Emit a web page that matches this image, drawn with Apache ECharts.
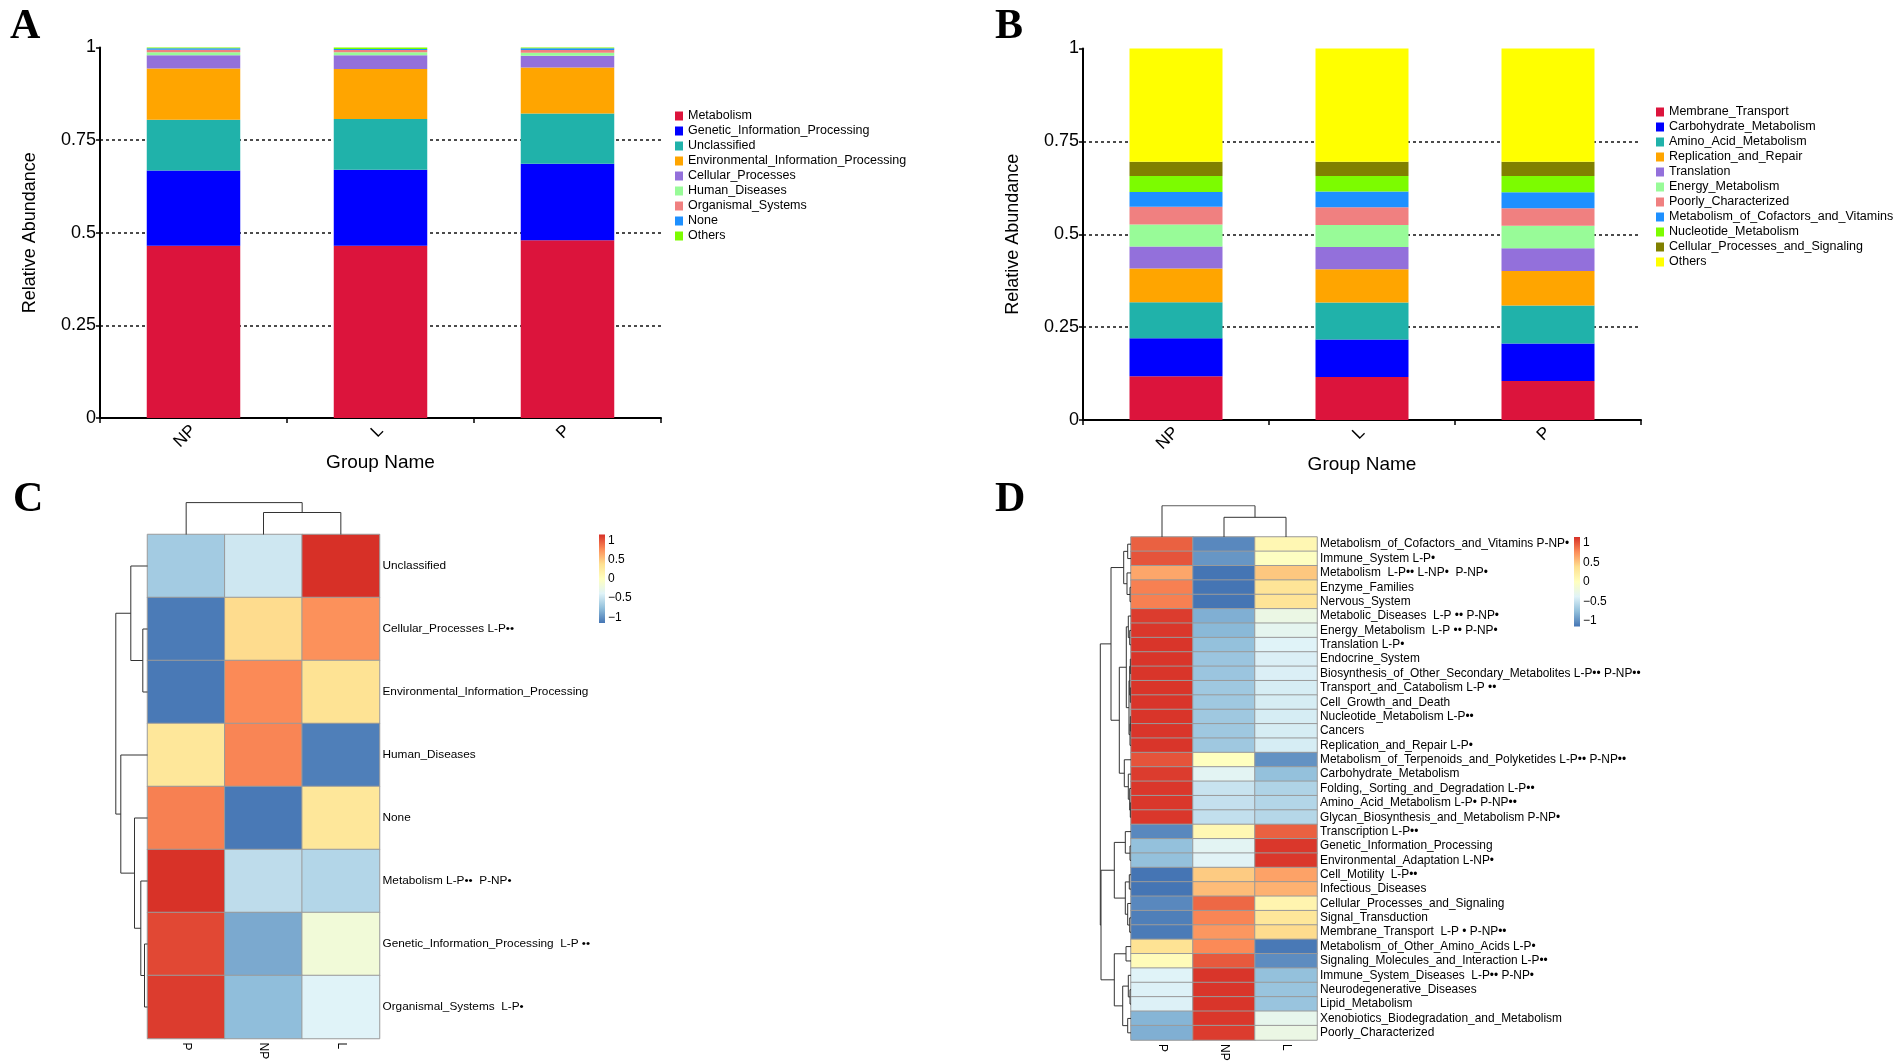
<!DOCTYPE html>
<html>
<head>
<meta charset="utf-8">
<script src="https://cdn.jsdelivr.net/npm/echarts@6/dist/echarts.min.js"></script>
<style>
html,body{margin:0;padding:0;background:#fff;}
.pane{position:absolute;left:0;top:0;width:1902px;height:1064px;}
</style>
</head>
<body>
<div id="cA" class="pane"></div>
<div id="cB" class="pane"></div>
<div id="cCD" class="pane"></div>
<script>
// ---------------- DATA ----------------
const groups = ['NP', 'L', 'P'];
const yTicks = [0, 0.25, 0.5, 0.75, 1];

// Panel A (KEGG level 1)
const catsA = ['Metabolism', 'Genetic_Information_Processing', 'Unclassified', 'Environmental_Information_Processing',
  'Cellular_Processes', 'Human_Diseases', 'Organismal_Systems', 'None', 'Others'];
const colorsA = ['#DC143C', '#0000FF', '#20B2AA', '#FFA500', '#9370DB', '#98FB98', '#F08080', '#1E90FF', '#7CFC00'];
const aNP = [0.465, 0.203, 0.137, 0.138, 0.036, 0.008, 0.007, 0.004, 0.002];
const aL  = [0.465, 0.205, 0.137, 0.135, 0.037, 0.008, 0.006, 0.003, 0.004];
const aP  = [0.480, 0.206, 0.136, 0.124, 0.032, 0.008, 0.007, 0.005, 0.002];

// Panel B (KEGG level 2)
const catsB = ['Membrane_Transport', 'Carbohydrate_Metabolism', 'Amino_Acid_Metabolism', 'Replication_and_Repair',
  'Translation', 'Energy_Metabolism', 'Poorly_Characterized', 'Metabolism_of_Cofactors_and_Vitamins',
  'Nucleotide_Metabolism', 'Cellular_Processes_and_Signaling', 'Others'];
const colorsB = ['#DC143C', '#0000FF', '#20B2AA', '#FFA500', '#9370DB', '#98FB98', '#F08080', '#1E90FF', '#7CFC00', '#808000', '#FFFF00'];
const bNP = [0.118, 0.102, 0.097, 0.091, 0.059, 0.059, 0.048, 0.040, 0.043, 0.038, 0.305];
const bL  = [0.116, 0.101, 0.099, 0.090, 0.060, 0.059, 0.048, 0.042, 0.042, 0.038, 0.305];
const bP  = [0.105, 0.101, 0.102, 0.093, 0.061, 0.061, 0.047, 0.043, 0.044, 0.038, 0.305];

// Heatmap columns (clustered order)
const hmCols = ['P', 'NP', 'L'];
const rampColors = ['#4575B4', '#91BFDB', '#E0F3F8', '#FFFFBF', '#FEE090', '#FC8D59', '#D73027'];
const zRange = [-1.15, 1.15];
const legendTicks = [-1, -0.5, 0, 0.5, 1];

// Panel C
const cRows = ['Unclassified', 'Cellular_Processes L-P••', 'Environmental_Information_Processing', 'Human_Diseases',
  'None', 'Metabolism L-P••  P-NP•', 'Genetic_Information_Processing  L-P ••', 'Organismal_Systems  L-P•'];
const cP  = [-0.68, -1.12, -1.13, 0.30, 0.82, 1.14, 1.05, 1.10];
const cNP = [-0.47, 0.40, 0.78, 0.80, -1.13, -0.55, -0.88, -0.77];
const cL  = [1.15, 0.75, 0.35, -1.10, 0.30, -0.60, -0.17, -0.38];
// dendrograms: [childA, childB, height(px)], leaves 0..n-1, merged nodes n, n+1, ...
const cRowMerges = [[1, 2, 4.7], [0, 8, 16.7], [6, 7, 3], [5, 10, 6.7], [4, 11, 13], [3, 12, 26.7], [9, 13, 31.7]];
const cColMerges = [[1, 2, 22], [0, 3, 31.9]];

// Panel D
const dRows = ['Metabolism_of_Cofactors_and_Vitamins P-NP•', 'Immune_System L-P•', 'Metabolism  L-P•• L-NP•  P-NP•',
  'Enzyme_Families', 'Nervous_System', 'Metabolic_Diseases  L-P •• P-NP•', 'Energy_Metabolism  L-P •• P-NP•',
  'Translation L-P•', 'Endocrine_System', 'Biosynthesis_of_Other_Secondary_Metabolites L-P•• P-NP••',
  'Transport_and_Catabolism L-P ••', 'Cell_Growth_and_Death', 'Nucleotide_Metabolism L-P••', 'Cancers',
  'Replication_and_Repair L-P•', 'Metabolism_of_Terpenoids_and_Polyketides L-P•• P-NP••', 'Carbohydrate_Metabolism',
  'Folding,_Sorting_and_Degradation L-P••', 'Amino_Acid_Metabolism L-P• P-NP••', 'Glycan_Biosynthesis_and_Metabolism P-NP•',
  'Transcription L-P••', 'Genetic_Information_Processing', 'Environmental_Adaptation L-NP•', 'Cell_Motility  L-P••',
  'Infectious_Diseases', 'Cellular_Processes_and_Signaling', 'Signal_Transduction', 'Membrane_Transport  L-P • P-NP••',
  'Metabolism_of_Other_Amino_Acids L-P•', 'Signaling_Molecules_and_Interaction L-P••', 'Immune_System_Diseases  L-P•• P-NP•',
  'Neurodegenerative_Diseases', 'Lipid_Metabolism', 'Xenobiotics_Biodegradation_and_Metabolism', 'Poorly_Characterized'];
const dP  = [0.95, 1.00, 0.65, 0.82, 0.82, 1.10, 1.12, 1.13, 1.13, 1.13, 1.13, 1.13, 1.13, 1.13, 1.13, 1.00, 1.10, 1.12, 1.12, 1.12,
  -1.05, -0.75, -0.75, -1.15, -1.15, -1.05, -1.10, -1.12, 0.35, 0.05, -0.38, -0.40, -0.40, -0.82, -0.85];
const dNP = [-1.05, -0.98, -1.15, -1.15, -1.15, -0.85, -0.80, -0.75, -0.72, -0.72, -0.70, -0.70, -0.70, -0.70, -0.70, 0.00, -0.35, -0.50, -0.52, -0.53,
  0.10, -0.35, -0.37, 0.48, 0.55, 0.92, 0.80, 0.72, 0.78, 0.98, 1.13, 1.13, 1.13, 1.12, 1.10];
const dL  = [0.10, -0.02, 0.50, 0.33, 0.33, -0.25, -0.32, -0.38, -0.41, -0.41, -0.43, -0.43, -0.43, -0.43, -0.43, -1.00, -0.75, -0.62, -0.60, -0.59,
  0.95, 1.12, 1.12, 0.67, 0.60, 0.13, 0.30, 0.40, -1.13, -1.03, -0.75, -0.73, -0.73, -0.30, -0.25];
const dRowMerges = [
  [0, 1, 3.3], [3, 4, 1], [2, 36, 4], [35, 37, 7.3],
  [12, 13, 0.7], [39, 14, 1], [10, 11, 0.7], [8, 9, 0.7], [42, 41, 1.3], [6, 7, 1.3], [5, 44, 2.7], [43, 40, 2], [45, 46, 4.7],
  [18, 19, 0.7], [17, 48, 1.3], [16, 49, 2.7], [15, 50, 6.7], [47, 51, 11.7], [38, 52, 20],
  [21, 22, 1], [20, 54, 5.7], [23, 24, 1.7], [26, 27, 1.3], [25, 57, 3.3], [56, 58, 5.7], [55, 59, 16.7],
  [28, 29, 5], [31, 32, 1], [30, 62, 2.7], [33, 34, 3.3], [63, 64, 8.3], [61, 65, 16.7], [60, 66, 30], [53, 67, 30.7]];
const dColMerges = [[1, 2, 19.7], [0, 3, 31.3]];

// ---------------- HELPERS ----------------
const FONT = '"Liberation Sans", Arial, sans-serif';
const SERIF = '"Liberation Serif", "Times New Roman", serif';

function stackedOption(letter, letterLeft, grid, cats, colors, vNP, vL, vP, legendPos) {
  const series = cats.map((c, i) => ({
    name: c, type: 'bar', stack: 'total', barWidth: '50%',
    data: [vNP[i], vL[i], vP[i]],
    itemStyle: { color: colors[i] },
    emphasis: { disabled: true }
  }));
  return {
    animation: false,
    textStyle: { fontFamily: FONT },
    title: { text: letter, left: letterLeft, top: 1, textStyle: { fontFamily: SERIF, fontWeight: 'bold', fontSize: 42, color: '#000' } },
    grid: grid,
    legend: {
      orient: 'vertical', left: legendPos[0], top: legendPos[1], padding: 0,
      itemWidth: 8, itemHeight: 9, itemGap: 2, icon: 'rect',
      textStyle: { fontSize: 12.5, color: '#000', lineHeight: 13, fontFamily: FONT },
      data: cats, selectedMode: false
    },
    xAxis: {
      type: 'category', data: groups,
      name: 'Group Name', nameLocation: 'middle', nameGap: 34,
      nameTextStyle: { fontSize: 19, color: '#000' },
      axisLine: { lineStyle: { color: '#000', width: 2 } },
      axisTick: { show: true, length: 5, lineStyle: { color: '#000', width: 1.5 } },
      axisLabel: { rotate: 45, fontSize: 17, color: '#000', margin: 10 }
    },
    yAxis: {
      type: 'value', min: 0, max: 1, interval: 0.25,
      name: 'Relative Abundance', nameLocation: 'middle', nameGap: 61,
      nameTextStyle: { fontSize: 18, color: '#000' },
      axisLine: { show: true, lineStyle: { color: '#000', width: 2 } },
      axisTick: { show: true, length: 4, lineStyle: { color: '#000', width: 1.5 } },
      axisLabel: { fontSize: 18, color: '#000', margin: 4 },
      splitLine: { show: true, lineStyle: { type: [3, 3], width: 1.5, color: ['rgba(0,0,0,0)', '#111', '#111', '#111', 'rgba(0,0,0,0)'] } }
    },
    series: series
  };
}

function dendroData(merges, nLeaves, isRow) {
  const pos = [], ht = [];
  for (let i = 0; i < nLeaves; i++) { pos[i] = i + 0.5; ht[i] = 0; }
  return merges.map((m, k) => {
    const a = m[0], b = m[1], h = m[2], id = nLeaves + k;
    pos[id] = (pos[a] + pos[b]) / 2; ht[id] = h;
    const pts = [[pos[a], ht[a]], [pos[a], h], [pos[b], h], [pos[b], ht[b]]];
    return { coords: pts.map(p => isRow ? [p[1], p[0]] : p) };
  });
}

// ---------------- CHARTS A/B ----------------
const chartA = echarts.init(document.getElementById('cA'));
chartA.setOption(stackedOption('A', 5, { left: 100, top: 47.5, width: 561, height: 370.5 },
  catsA, colorsA, aNP, aL, aP, [675, 109.5]));

const chartB = echarts.init(document.getElementById('cB'));
chartB.setOption(stackedOption('B', 990, { left: 1083, top: 48.5, width: 558, height: 371.5 },
  catsB, colorsB, bNP, bL, bP, [1656, 105.5]));

// ---------------- CHARTS C/D ----------------
function heatPanel(p) {
  const nR = p.rows.length;
  const rowRoot = p.rowMerges[p.rowMerges.length - 1][2];
  const colRoot = p.colMerges[p.colMerges.length - 1][2];
  const [L, T, W, H] = p.hm;
  const grids = [
    { left: L, top: T, width: W, height: H },
    { left: L - rowRoot, top: T, width: rowRoot, height: H },
    { left: L, top: T - colRoot, width: W, height: colRoot },
    { left: p.cbar[0], top: p.cbar[1], width: p.cbar[2], height: p.cbar[3] }
  ];
  const xAxes = [
    { type: 'category', data: hmCols, position: 'bottom', axisLine: { show: false }, axisTick: { show: false },
      axisLabel: { interval: 0, rotate: -90, fontSize: 12, color: '#000', margin: 4 }, splitLine: { show: false } },
    { type: 'value', min: 0, max: rowRoot, inverse: true, show: false },
    { type: 'value', min: 0, max: hmCols.length, show: false },
    { type: 'category', data: [''], show: false }
  ];
  const yAxes = [
    { type: 'category', data: p.rows, inverse: true, position: 'right', axisLine: { show: false }, axisTick: { show: false },
      axisLabel: { interval: 0, fontSize: p.fontSize, color: '#000', margin: 3 }, splitLine: { show: false } },
    { type: 'value', min: 0, max: nR, inverse: true, show: false },
    { type: 'value', min: 0, max: colRoot, show: false },
    { type: 'value', min: 0, max: zRange[1] - zRange[0], show: false },
    { type: 'value', min: zRange[0], max: zRange[1], position: 'right', axisLine: { show: false }, axisTick: { show: false },
      splitLine: { show: false },
      axisLabel: { customValues: legendTicks, fontSize: 12, color: '#000', margin: 3,
        formatter: v => String(v).replace('-', '\u2212') } }
  ];
  const cells = [];
  for (let r = 0; r < nR; r++) for (let c = 0; c < 3; c++) cells.push([c, r, p.vals[c][r]]);
  const grad = new echarts.graphic.LinearGradient(0, 0, 0, 1,
    rampColors.slice().reverse().map((col, i, arr) => ({ offset: i / (arr.length - 1), color: col })));
  return { grids, xAxes, yAxes, cells, grad, key: zRange[1] - zRange[0],
    rowD: dendroData(p.rowMerges, nR, true), colD: dendroData(p.colMerges, hmCols.length, false) };
}

const C = heatPanel({ hm: [147.5, 534.5, 232, 504], rows: cRows, vals: [cP, cNP, cL],
  rowMerges: cRowMerges, colMerges: cColMerges, cbar: [599, 534.5, 6, 88.5], fontSize: 11.8 });
const D = heatPanel({ hm: [1131, 537, 186, 503], rows: dRows, vals: [dP, dNP, dL],
  rowMerges: dRowMerges, colMerges: dColMerges, cbar: [1574, 537, 6, 89.5], fontSize: 11.9 });

const grid = C.grids.concat(D.grids);
const xAxis = C.xAxes.map((a, i) => Object.assign({ gridIndex: i }, a))
  .concat(D.xAxes.map((a, i) => Object.assign({ gridIndex: i + 4 }, a)));
const yAxis = C.yAxes.map((a, i) => Object.assign({ gridIndex: Math.min(i, 3) }, a))
  .concat(D.yAxes.map((a, i) => Object.assign({ gridIndex: Math.min(i, 3) + 4 }, a)));

const dendroStyle = { color: '#333', width: 1, opacity: 1 };
function panelSeries(P, xo, yo, tag) {
  return [
    { name: tag + '_heat', type: 'heatmap', xAxisIndex: xo + 0, yAxisIndex: yo + 0, data: P.cells,
      itemStyle: { borderColor: '#9a9a9a', borderWidth: 1 }, emphasis: { disabled: true } },
    { name: tag + '_rowDendro', type: 'lines', coordinateSystem: 'cartesian2d', polyline: true, xAxisIndex: xo + 1, yAxisIndex: yo + 1,
      data: P.rowD, lineStyle: dendroStyle, silent: true },
    { name: tag + '_colDendro', type: 'lines', coordinateSystem: 'cartesian2d', polyline: true, xAxisIndex: xo + 2, yAxisIndex: yo + 2,
      data: P.colD, lineStyle: dendroStyle, silent: true },
    { name: tag + '_key', type: 'bar', xAxisIndex: xo + 3, yAxisIndex: yo + 3, data: [P.key], barWidth: '100%',
      itemStyle: { color: P.grad }, silent: true },
    { name: tag + '_keyAxis', type: 'line', xAxisIndex: xo + 3, yAxisIndex: yo + 4, data: [], silent: true }
  ];
}

const chartCD = echarts.init(document.getElementById('cCD'));
chartCD.setOption({
  animation: false,
  textStyle: { fontFamily: FONT },
  title: [
    { text: 'C', left: 8, top: 474, textStyle: { fontFamily: SERIF, fontWeight: 'bold', fontSize: 42, color: '#000' } },
    { text: 'D', left: 990, top: 474, textStyle: { fontFamily: SERIF, fontWeight: 'bold', fontSize: 42, color: '#000' } }
  ],
  grid: grid,
  xAxis: xAxis,
  yAxis: yAxis,
  visualMap: {
    type: 'continuous', show: false, min: zRange[0], max: zRange[1], dimension: 2,
    seriesIndex: [0, 5], inRange: { color: rampColors }
  },
  series: panelSeries(C, 0, 0, 'C').concat(panelSeries(D, 4, 5, 'D'))
});
</script>
</body>
</html>
